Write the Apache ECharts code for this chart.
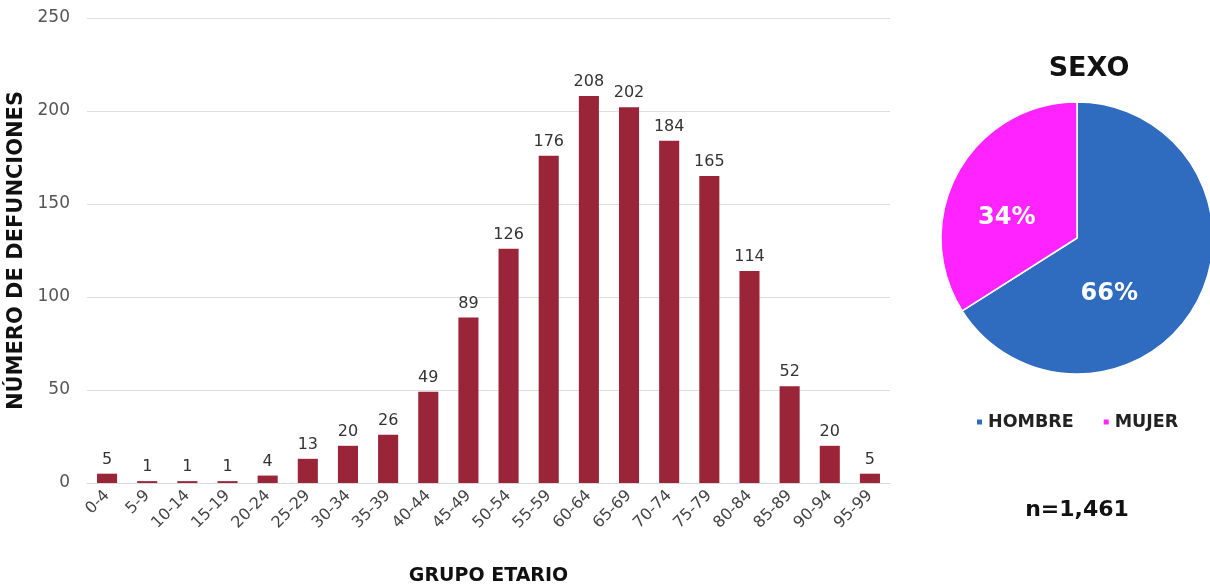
<!DOCTYPE html>
<html>
<head>
<meta charset="utf-8">
<script src="https://cdn.jsdelivr.net/npm/echarts@6/dist/echarts.min.js"></script>
<style>
  html, body { margin: 0; padding: 0; background: #fff; }
  #chart { width: 1210px; height: 587px; }
</style>
</head>
<body>
<div id="chart"></div>
<script>
// Age groups and deaths per group
const ageGroups = ['0-4','5-9','10-14','15-19','20-24','25-29','30-34','35-39','40-44','45-49',
                   '50-54','55-59','60-64','65-69','70-74','75-79','80-84','85-89','90-94','95-99'];
const deaths = [5, 1, 1, 1, 4, 13, 20, 26, 49, 89, 126, 176, 208, 202, 184, 165, 114, 52, 20, 5];

// Share by sex (percent)
const sexNames = ['HOMBRE', 'MUJER'];
const sexShares = [66, 34];
const sexColors = ['#2f6cc0', '#ff24ff'];
// Label nudges so the percentages sit toward the slice interiors
const sexLabelOffsets = [[-30, 22], [-8, 14]];
const totalLabel = 'n=1,461';

const FONT = '"DejaVu Sans", "Open Sans", sans-serif';

const chart = echarts.init(document.getElementById('chart'));
chart.setOption({
  animation: false,
  textStyle: { fontFamily: FONT },
  title: [
    { text: 'SEXO', left: 1084, top: 50, textAlign: 'center',
      textStyle: { fontSize: 27, fontWeight: 'bold', color: '#111', fontFamily: FONT } },
    { text: totalLabel, left: 1072, top: 494, textAlign: 'center',
      textStyle: { fontSize: 22, fontWeight: 'bold', color: '#111', fontFamily: FONT } }
  ],
  legend: {
    data: sexNames,
    left: 970, top: 408,
    itemWidth: 7, itemHeight: 7, itemGap: 28,
    icon: 'rect',
    textStyle: { fontSize: 17.5, fontWeight: 'bold', color: '#222', fontFamily: FONT }
  },
  grid: { left: 87, right: 320, top: 18, bottom: 104, containLabel: false, outerBoundsMode: 'none' },
  xAxis: {
    type: 'category',
    data: ageGroups,
    name: 'GRUPO ETARIO',
    nameLocation: 'middle',
    nameGap: 84,
    nameTextStyle: { fontSize: 19, fontWeight: 'bold', color: '#111', fontFamily: FONT },
    axisLine: { lineStyle: { color: '#d9d9d9', width: 1 } },
    axisTick: { show: false },
    axisLabel: { rotate: 45, fontSize: 16, color: '#444', margin: 10, fontFamily: FONT }
  },
  yAxis: {
    type: 'value',
    min: 0, max: 250, interval: 50,
    name: 'NÚMERO DE DEFUNCIONES',
    nameLocation: 'middle',
    nameGap: 55,
    nameRotate: 90,
    nameTextStyle: { fontSize: 21, fontWeight: 'bold', color: '#111', fontFamily: FONT },
    axisLine: { show: false },
    axisTick: { show: false },
    axisLabel: { fontSize: 17, color: '#555', margin: 17, fontFamily: FONT },
    splitLine: { lineStyle: { color: '#dedede', width: 1 } }
  },
  series: [
    {
      type: 'bar',
      data: deaths,
      barWidth: '50%',
      itemStyle: { color: '#9a2438' },
      label: { show: true, position: 'top', fontSize: 16, color: '#333', distance: 6, fontFamily: FONT }
    },
    {
      type: 'pie',
      center: [1077, 238],
      radius: 136,
      startAngle: 90,
      clockwise: true,
      data: sexNames.map((n, i) => ({
        name: n, value: sexShares[i],
        itemStyle: { color: sexColors[i] },
        label: { offset: sexLabelOffsets[i] }
      })),
      itemStyle: { borderColor: '#fff', borderWidth: 1.5 },
      label: {
        show: true, position: 'inside',
        formatter: p => p.value + '%',
        fontSize: 24, fontWeight: 'bold', color: '#fff', fontFamily: FONT
      },
      labelLine: { show: false }
    }
  ]
});
</script>
</body>
</html>
